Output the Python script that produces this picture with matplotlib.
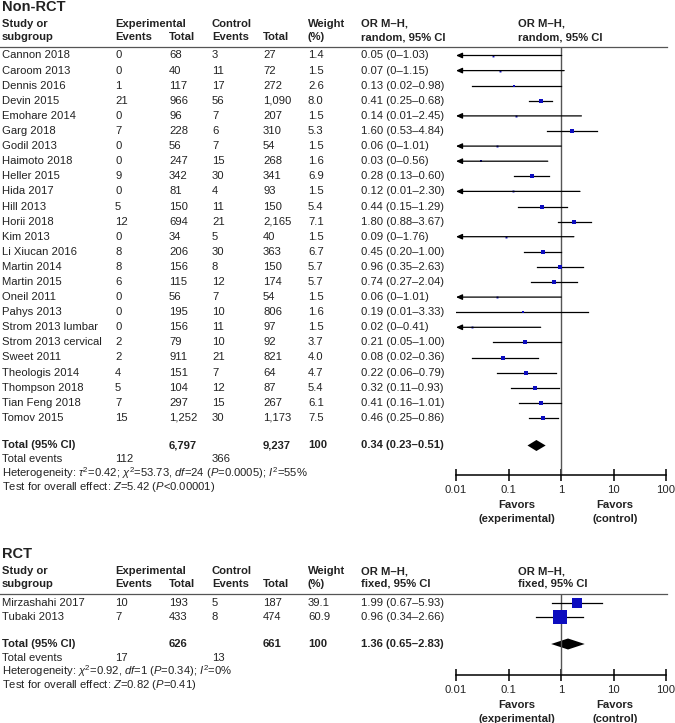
import numpy as np
import matplotlib.pyplot as plt

plt.rcParams['font.family'] = ['Liberation Sans', 'DejaVu Sans']
plt.rcParams['mathtext.fontset'] = 'custom'
plt.rcParams['mathtext.rm'] = 'Liberation Sans'
plt.rcParams['mathtext.it'] = 'Liberation Sans:italic'
plt.rcParams['mathtext.bf'] = 'Liberation Sans:bold'

# Non-RCT data
nr_studies = ['Cannon 2018', 'Caroom 2013', 'Dennis 2016', 'Devin 2015', 'Emohare 2014',
              'Garg 2018', 'Godil 2013', 'Haimoto 2018', 'Heller 2015', 'Hida 2017',
              'Hill 2013', 'Horii 2018', 'Kim 2013', 'Li Xiucan 2016', 'Martin 2014',
              'Martin 2015', 'Oneil 2011', 'Pahys 2013', 'Strom 2013 lumbar',
              'Strom 2013 cervical', 'Sweet 2011', 'Theologis 2014', 'Thompson 2018',
              'Tian Feng 2018', 'Tomov 2015']
nr_exp_events = [0, 0, 1, 21, 0, 7, 0, 0, 9, 0, 5, 12, 0, 8, 8, 6, 0, 0, 0, 2, 2, 4, 5, 7, 15]
nr_exp_total = [68, 40, 117, 966, 96, 228, 56, 247, 342, 81, 150, 694, 34, 206, 156, 115,
                56, 195, 156, 79, 911, 151, 104, 297, 1252]
nr_ctl_events = [3, 11, 17, 56, 7, 6, 7, 15, 30, 4, 11, 21, 5, 30, 8, 12, 7, 10, 11, 10,
                 21, 7, 12, 15, 30]
nr_ctl_total = [27, 72, 272, 1090, 207, 310, 54, 268, 341, 93, 150, 2165, 40, 363, 150,
                174, 54, 806, 97, 92, 821, 64, 87, 267, 1173]
nr_weight = [1.4, 1.5, 2.6, 8.0, 1.5, 5.3, 1.5, 1.6, 6.9, 1.5, 5.4, 7.1, 1.5, 6.7, 5.7,
             5.7, 1.5, 1.6, 1.5, 3.7, 4.0, 4.7, 5.4, 6.1, 7.5]
nr_or = [0.05, 0.07, 0.13, 0.41, 0.14, 1.60, 0.06, 0.03, 0.28, 0.12, 0.44, 1.80, 0.09,
         0.45, 0.96, 0.74, 0.06, 0.19, 0.02, 0.21, 0.08, 0.22, 0.32, 0.41, 0.46]
nr_lo = [0, 0, 0.02, 0.25, 0.008, 0.53, 0, 0, 0.13, 0.006, 0.15, 0.88, 0, 0.20, 0.35,
         0.27, 0, 0.01, 0, 0.05, 0.02, 0.06, 0.11, 0.16, 0.25]
nr_hi = [1.03, 1.15, 0.98, 0.68, 2.45, 4.84, 1.01, 0.56, 0.60, 2.30, 1.29, 3.67, 1.76,
         1.00, 2.63, 2.04, 1.01, 3.33, 0.41, 1.00, 0.36, 0.79, 0.93, 1.01, 0.86]
nr_pooled = [0.34, 0.23, 0.51]

# RCT data
r_studies = ['Mirzashahi 2017', 'Tubaki 2013']
r_exp_events = [10, 7]
r_exp_total = [193, 433]
r_ctl_events = [5, 8]
r_ctl_total = [187, 474]
r_weight = [39.1, 60.9]
r_or = [1.99, 0.96]
r_lo = [0.67, 0.34]
r_hi = [5.93, 2.66]
r_pooled = [1.36, 0.65, 2.83]

TXT = '#222222'
SQ = '#0d0dbf'
W, H = 675, 723
fig = plt.figure(figsize=(W / 100, H / 100), dpi=100)
tx = fig.add_axes([0, 0, 1, 1])
tx.set_xlim(0, W)
tx.set_ylim(H, 0)
tx.axis('off')

cols = [2, 115, 169, 212, 263, 308, 361]
fs = 8.1


def put(x, y, s, bold=False, **kw):
    tx.text(x, y, s, fontsize=kw.pop('size', fs), color=TXT, va='center',
            fontweight='bold' if bold else 'normal', **kw)


def fmt_ci(o, l, h):
    ls = '0' if l == 0 else f'{l:.2f}'
    return f'{o:.2f} ({ls}\u2013{h:.2f})'


def panel(title, model, studies, ee, et, ce, ct, wt, orr, lo, hi, pooled,
          top, row0, step, total_y, axis_y, het, test, k):
    put(2, top, title, bold=True, size=10.5)
    h1, h2 = top + 17, top + 30
    put(2, h1, 'Study or', True)
    put(2, h2, 'subgroup', True)
    put(cols[1], h1, 'Experimental', True)
    put(cols[1], h2, 'Events', True)
    put(cols[2], h2, 'Total', True)
    put(cols[3], h1, 'Control', True)
    put(cols[3], h2, 'Events', True)
    put(cols[4], h2, 'Total', True)
    put(cols[5], h1, 'Weight', True)
    put(cols[5], h2, '(%)', True)
    put(cols[6], h1, 'OR M\u2013H,', True)
    put(cols[6], h2, f'{model}, 95% CI', True)
    put(518, h1, 'OR M\u2013H,', True)
    put(518, h2, f'{model}, 95% CI', True)
    line_y = top + 39.5
    tx.plot([0, 667], [line_y, line_y], color='#555555', lw=0.9)

    ys = [row0 + step * i for i in range(len(studies))]
    for i, y in enumerate(ys):
        put(cols[0], y, studies[i])
        put(cols[1], y, str(ee[i]))
        put(cols[2], y, f'{et[i]:,}')
        put(cols[3], y, str(ce[i]))
        put(cols[4], y, f'{ct[i]:,}')
        put(cols[5], y, f'{wt[i]:.1f}')
        put(cols[6], y, fmt_ci(orr[i], lo[i], hi[i]))

    put(cols[0], total_y, 'Total (95% CI)', True)
    put(cols[2], total_y, f'{sum(et):,}', True)
    put(cols[4], total_y, f'{sum(ct):,}', True)
    put(cols[5], total_y, f'{sum(wt):.0f}', True)
    put(cols[6], total_y, fmt_ci(*pooled), True)
    put(cols[0], total_y + 14, 'Total events')
    put(cols[1], total_y + 14, str(sum(ee)))
    put(cols[3], total_y + 14, str(sum(ce)))
    put(cols[0], total_y + 27.5, het)
    put(cols[0], total_y + 41, test)

    # forest plot
    ax = fig.add_axes([456 / W, 1 - axis_y / H, 210 / W, (axis_y - line_y) / H])
    ax.set_xscale('log')
    ax.set_xlim(0.01, 100)
    ax.set_ylim(axis_y, line_y)
    ax.patch.set_alpha(0)
    for s in ['left', 'right', 'top']:
        ax.spines[s].set_visible(False)
    ax.spines['bottom'].set_linewidth(1.1)
    ax.set_yticks([])
    ax.set_xticks([0.01, 0.1, 1, 10, 100])
    ax.set_xticklabels(['0.01', '0.1', '1', '10', '100'])
    ax.minorticks_off()
    ax.tick_params(axis='x', direction='inout', length=8, width=1.1, labelsize=fs,
                   labelcolor=TXT, pad=3)
    ax.axvline(1, color='#555555', lw=1)
    for i, y in enumerate(ys):
        if lo[i] < 0.01:
            ax.annotate('', xy=(0.01, y), xytext=(hi[i], y),
                        arrowprops=dict(arrowstyle='-|>,head_length=0.45,head_width=0.2',
                                        color='k', lw=0.9, shrinkA=0, shrinkB=0,
                                        mutation_scale=8))
        else:
            ax.plot([lo[i], hi[i]], [y, y], color='k', lw=0.9)
        side_pt = k * np.sqrt(wt[i]) / 1.389
        ax.plot(orr[i], y, 's', ms=side_pt, color=SQ, mec=SQ, mew=0)
    o, l, h = pooled
    ax.fill([l, o, h, o], [total_y, total_y - 5.5, total_y, total_y + 5.5], color='k', lw=0)

    put(516.7, axis_y + 30, 'Favors', True, ha='center')
    put(516.7, axis_y + 44, '(experimental)', True, ha='center')
    put(615, axis_y + 30, 'Favors', True, ha='center')
    put(615, axis_y + 44, '(control)', True, ha='center')


panel('Non-RCT', 'random', nr_studies, nr_exp_events, nr_exp_total, nr_ctl_events,
      nr_ctl_total, nr_weight, nr_or, nr_lo, nr_hi, nr_pooled,
      top=7, row0=55.5, step=15.1, total_y=445.5, axis_y=475,
      het=r'Heterogeneity: $\tau^2$=0.42; $\chi^2$=53.73, $df$=24 ($P$=0.0005); $I^2$=55%',
      test=r'Test for overall effect: $Z$=5.42 ($P$<0.00001)', k=1.6)

panel('RCT', 'fixed', r_studies, r_exp_events, r_exp_total, r_ctl_events,
      r_ctl_total, r_weight, r_or, r_lo, r_hi, r_pooled,
      top=554, row0=603, step=14.5, total_y=644, axis_y=675,
      het=r'Heterogeneity: $\chi^2$=0.92, $df$=1 ($P$=0.34); $I^2$=0%',
      test=r'Test for overall effect: $Z$=0.82 ($P$=0.41)', k=1.75)

fig.savefig('out.png', dpi=100)
